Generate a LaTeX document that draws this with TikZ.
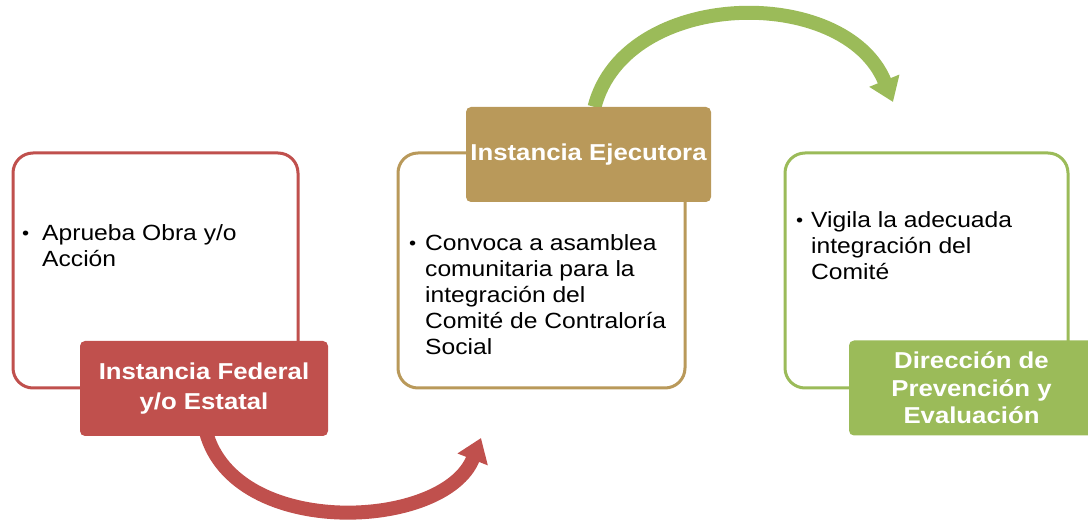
\documentclass[tikz,border=0pt]{standalone}
\usepackage{fontspec}
\setmainfont{Liberation Sans}[FakeStretch=1.12]
\usetikzlibrary{arrows.meta,backgrounds}
\definecolor{cred}{HTML}{C0504D}
\definecolor{cgold}{HTML}{B9995A}
\definecolor{cgreen}{HTML}{9BBB59}
\begin{document}
\begin{tikzpicture}[x=1pt,y=-1pt,
  outerbox/.style={draw=#1, line width=3pt, rounded corners=20pt, fill=white,
    anchor=north west, inner sep=0pt, outer sep=0pt},
  labelbox/.style={fill=#1, rounded corners=5pt, text=white, inner sep=0pt, outer sep=0pt,
    font=\bfseries\fontsize{23}{27.5}\selectfont, align=center},
  bodytext/.style={font=\fontsize{22}{26}\selectfont, align=left, anchor=north west, inner sep=0pt},
  bulletmark/.style={font=\fontsize{18}{20}\selectfont, anchor=base west, inner sep=0pt},
  flow/.style={line width=14pt, draw=#1, -{Triangle[width=31pt,length=23pt]}}]
\useasboundingbox (0,0) rectangle (1088,521);

% outer boxes
\node[outerbox=cred, minimum width=285, minimum height=235] (boxA) at (13,153) {};
\node[outerbox=cgold, minimum width=287, minimum height=235] (boxB) at (398,153) {};
\node[outerbox=cgreen, minimum width=283, minimum height=235] (boxC) at (785,153) {};

% body texts
\node[bulletmark] (bA) at (22,240) {•};
\node[bodytext] (tA) at (42,224) {Aprueba Obra y/o\\Acción};
\node[bulletmark] (bB) at (409,250) {•};
\node[bodytext] (tB) at (425,234) {Convoca a asamblea\\comunitaria para la\\integración del\\Comité de Contraloría\\Social};
\node[bulletmark] (bC) at (796,227) {•};
\node[bodytext] (tC) at (811,211) {Vigila la adecuada\\integración del\\Comité};

% labels
\node[labelbox=cred, minimum width=248, minimum height=95,
  font=\bfseries\fontsize{23}{30}\selectfont] (LA) at (204,388.5) {Instancia Federal\\y/o Estatal};
\node[labelbox=cgold, minimum width=245, minimum height=95] (LB) at (588.5,154.5) {Instancia Ejecutora};
\node[labelbox=cgreen, minimum width=245, minimum height=95] (LC) at (971.5,388) {Dirección de\\Prevención y\\Evaluación};

\coordinate (redtip) at (481,438);
\coordinate (greentip) at (893,102);

\begin{scope}[on background layer]
\draw[flow=cred] ([xshift=2pt,yshift=4pt]LA.south) .. controls (235,540) and (445,530) .. (redtip);
\draw[flow=cgreen] ([xshift=6pt]LB.north) .. controls (625,-12) and (845,-16) .. (greentip);
\end{scope}
\end{tikzpicture}
\end{document}
